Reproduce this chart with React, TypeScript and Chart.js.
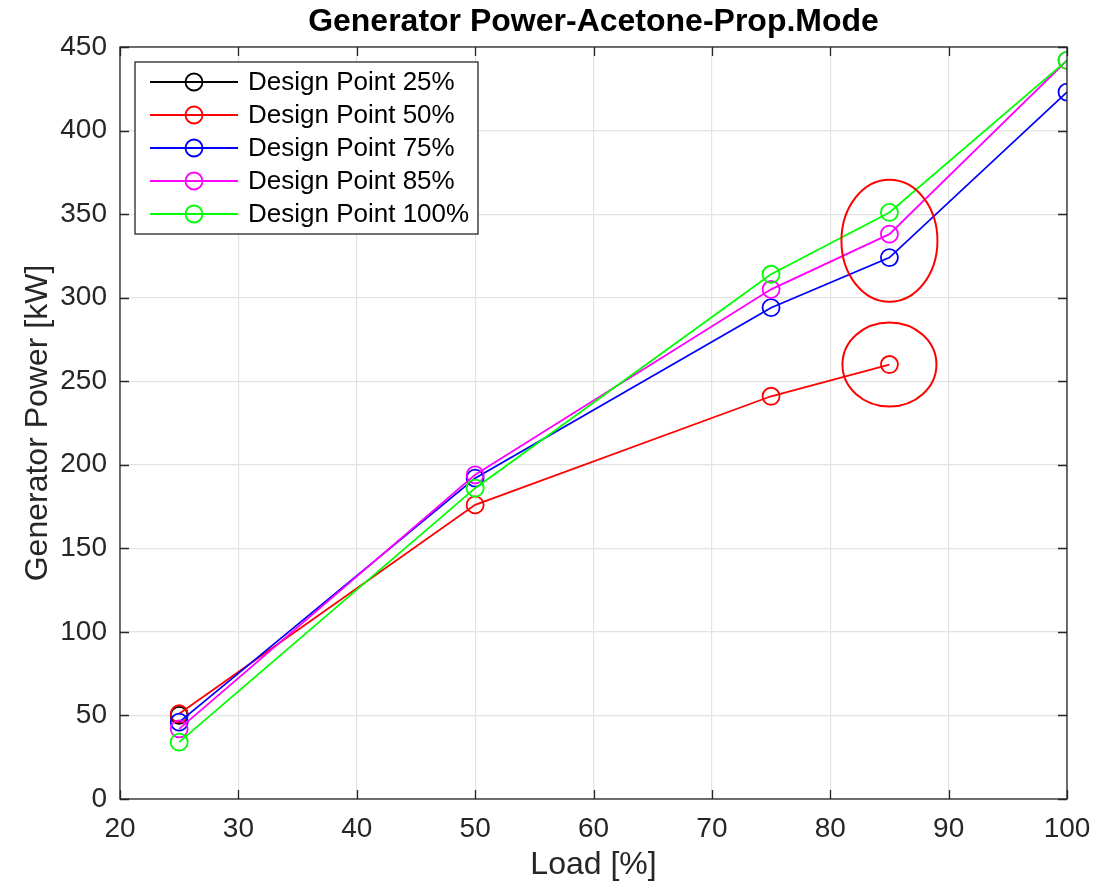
import React, { useEffect, useRef } from "react";
import { Chart, registerables } from "chart.js";

Chart.register(...registerables);

// Load points [%] and generator power [kW] per design point
const loads = [25, 50, 75, 85, 100];
const dp25 = [50];
const dp50 = [51, 176, 241, 260];
const dp75 = [46, 192, 294, 324, 423];
const dp85 = [42, 194, 305, 338, 442];
const dp100 = [34, 186, 314, 351, 442];

const seriesNames = [
  "Design Point 25%",
  "Design Point 50%",
  "Design Point 75%",
  "Design Point 85%",
  "Design Point 100%",
];
const seriesColors = ["#000000", "#ff0000", "#0000ff", "#ff00ff", "#00ff00"];
const seriesValues = [dp25, dp50, dp75, dp85, dp100];

// Highlight rings: [load, power, radiusX, radiusY]
const highlights = [
  [85, 334, 48, 61],
  [85, 260, 47, 42],
];

const xTicks = [20, 30, 40, 50, 60, 70, 80, 90, 100];
const yTicks = [0, 50, 100, 150, 200, 250, 300, 350, 400, 450];

const FONT = "'Liberation Sans', Arial, Helvetica, sans-serif";
const AXIS_COLOR = "#262626";

const matlabFrame = {
  id: "matlabFrame",
  afterDatasetsDraw(chart: any) {
    const { ctx, chartArea: a, scales } = chart;
    const xs = scales.x;
    const ys = scales.y;
    ctx.save();

    // highlight ellipses
    ctx.strokeStyle = "#ff0000";
    ctx.lineWidth = 2;
    for (const [lx, py, rx, ry] of highlights) {
      ctx.beginPath();
      ctx.ellipse(xs.getPixelForValue(lx), ys.getPixelForValue(py), rx, ry, 0, 0, Math.PI * 2);
      ctx.stroke();
    }

    // axes box with inward ticks
    ctx.strokeStyle = AXIS_COLOR;
    ctx.lineWidth = 1.3;
    ctx.strokeRect(a.left, a.top, a.right - a.left, a.bottom - a.top);
    const tl = 9;
    ctx.beginPath();
    for (const t of xTicks) {
      const px = Math.round(xs.getPixelForValue(t)) + 0.5;
      ctx.moveTo(px, a.bottom);
      ctx.lineTo(px, a.bottom - tl);
      ctx.moveTo(px, a.top);
      ctx.lineTo(px, a.top + tl);
    }
    for (const t of yTicks) {
      const py = Math.round(ys.getPixelForValue(t)) + 0.5;
      ctx.moveTo(a.left, py);
      ctx.lineTo(a.left + tl, py);
      ctx.moveTo(a.right, py);
      ctx.lineTo(a.right - tl, py);
    }
    ctx.stroke();
    ctx.restore();
  },
  afterDraw(chart: any) {
    const { ctx, chartArea: a } = chart;
    ctx.save();

    // title
    ctx.fillStyle = "#000000";
    ctx.font = `bold 32px ${FONT}`;
    ctx.textAlign = "center";
    ctx.textBaseline = "middle";
    ctx.fillText("Generator Power-Acetone-Prop.Mode", (a.left + a.right) / 2, 22);

    // axis titles
    ctx.fillStyle = AXIS_COLOR;
    ctx.font = `32px ${FONT}`;
    ctx.fillText("Load [%]", (a.left + a.right) / 2, 865);
    ctx.save();
    ctx.translate(38, (a.top + a.bottom) / 2);
    ctx.rotate(-Math.PI / 2);
    ctx.fillText("Generator Power [kW]", 0, 0);
    ctx.restore();

    // legend
    const bx = a.left + 15;
    const by = a.top + 15;
    const bw = 343;
    const bh = 172;
    ctx.fillStyle = "#ffffff";
    ctx.fillRect(bx, by, bw, bh);
    ctx.strokeStyle = AXIS_COLOR;
    ctx.lineWidth = 1.3;
    ctx.strokeRect(bx, by, bw, bh);
    ctx.font = `26px ${FONT}`;
    ctx.textAlign = "left";
    ctx.textBaseline = "middle";
    seriesNames.forEach((name, i) => {
      const ry = by + 20 + i * 33;
      ctx.strokeStyle = seriesColors[i];
      ctx.lineWidth = 1.8;
      ctx.beginPath();
      ctx.moveTo(bx + 15, ry);
      ctx.lineTo(bx + 103, ry);
      ctx.stroke();
      ctx.beginPath();
      ctx.arc(bx + 59, ry, 8.5, 0, Math.PI * 2);
      ctx.stroke();
      ctx.fillStyle = "#000000";
      ctx.fillText(name, bx + 113, ry + 1);
    });
    ctx.restore();
  },
};

export default function App() {
  const ref = useRef<HTMLCanvasElement | null>(null);

  useEffect(() => {
    document.body.style.margin = "0";
    const canvas = ref.current;
    if (!canvas) return;

    const datasets = seriesValues.map((vals, i) => ({
      label: seriesNames[i],
      data: vals.map((v, k) => ({ x: loads[k], y: v })),
      borderColor: seriesColors[i],
      backgroundColor: "transparent",
      borderWidth: 1.8,
      pointRadius: 8.5,
      pointBorderWidth: 1.8,
      pointBackgroundColor: "transparent",
      pointBorderColor: seriesColors[i],
      order: seriesValues.length - 1 - i,
      tension: 0,
    }));

    const chart = new Chart(canvas, {
      type: "line",
      data: { datasets },
      options: {
        animation: false,
        responsive: false,
        maintainAspectRatio: false,
        layout: { padding: { top: 47, right: 38, left: 0, bottom: 0 } },
        plugins: {
          legend: { display: false },
          title: { display: false },
          tooltip: { enabled: false },
        },
        scales: {
          x: {
            type: "linear",
            min: 20,
            max: 100,
            afterBuildTicks: (s: any) => {
              s.ticks = xTicks.map((v) => ({ value: v }));
            },
            afterFit: (s: any) => {
              s.height = 87;
            },
            ticks: {
              color: AXIS_COLOR,
              font: { family: FONT, size: 28 },
              padding: 13,
              maxRotation: 0,
              autoSkip: false,
            },
            grid: { color: "#e3e3e3", lineWidth: 1.2, drawTicks: false },
            border: { display: false },
          },
          y: {
            type: "linear",
            min: 0,
            max: 450,
            afterBuildTicks: (s: any) => {
              s.ticks = yTicks.map((v) => ({ value: v }));
            },
            afterFit: (s: any) => {
              s.width = 120;
            },
            ticks: {
              color: AXIS_COLOR,
              font: { family: FONT, size: 28 },
              padding: 13,
              autoSkip: false,
            },
            grid: { color: "#e3e3e3", lineWidth: 1.2, drawTicks: false },
            border: { display: false },
          },
        },
      },
      plugins: [matlabFrame],
    });

    return () => chart.destroy();
  }, []);

  return (
    <div style={{ width: 1105, height: 886, background: "#ffffff" }}>
      <canvas ref={ref} width={1105} height={886} style={{ display: "block" }} />
    </div>
  );
}
